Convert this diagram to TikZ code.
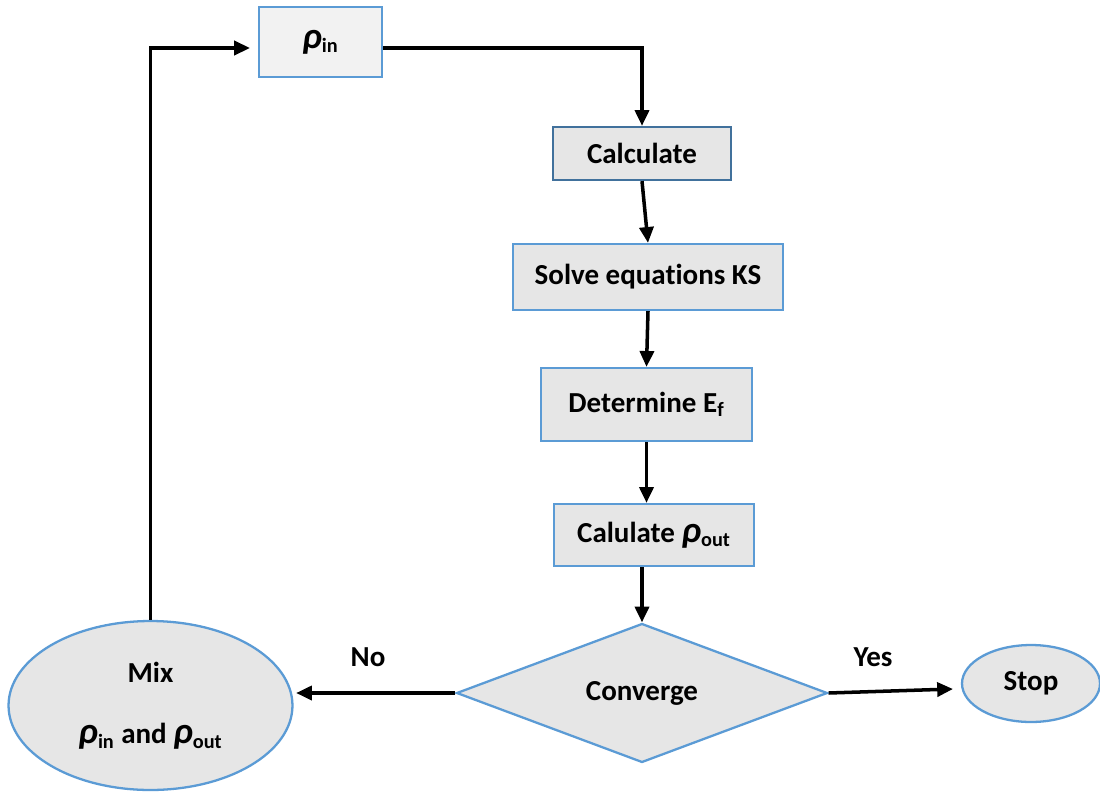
\documentclass[tikz,border=0pt]{standalone}
\usepackage{fontspec}
\setmainfont{Carlito}[Ligatures=NoCommon]
\usetikzlibrary{arrows.meta,shapes.geometric}
\definecolor{boxblue}{HTML}{5B9BD5}
\definecolor{darkblue}{HTML}{41719C}
\definecolor{boxgray}{HTML}{E6E6E6}
\definecolor{palegray}{HTML}{F2F2F2}
\newcommand{\rhosub}[1]{{\fontsize{21}{21}\selectfont\textit{ρ}}\textsubscript{#1}}
\tikzset{
  box/.style={draw=boxblue, fill=boxgray, line width=1.3pt, inner sep=0pt,
    font=\bfseries\fontsize{16.5}{19}\selectfont},
  flow/.style={-{Triangle[length=9pt,width=8pt]}, line width=2pt},
  lbl/.style={font=\bfseries\fontsize{16.5}{19}\selectfont}
}
\begin{document}
\begin{tikzpicture}[x=0.02cm, y=-0.02cm]
\useasboundingbox (0,0) rectangle (1100,792);
% boxes
\node[box, fill=palegray, minimum width=2.46cm, minimum height=1.4cm] (rin) at (320.5,42) {\rhosub{in}};
\node[box, draw=darkblue, minimum width=3.56cm, minimum height=1.06cm] (calc) at (642,153.5) {Calculate};
\node[box, minimum width=5.4cm, minimum height=1.32cm] (solve) at (648,277) {Solve equations KS};
\node[box, minimum width=4.22cm, minimum height=1.46cm] (determ) at (646.5,404.5) {Determine E\textsubscript{f}};
\node[box, minimum width=4.0cm, minimum height=1.24cm] (rout) at (654,535) {Calulate \rhosub{out}};
\node[box, diamond, minimum width=7.42cm, minimum height=2.78cm] (conv) at (642,693) {Converge};
\node[box, ellipse, minimum width=5.68cm, minimum height=3.38cm, align=center] (mix) at (150.5,705.5) {Mix\\[16pt]\rhosub{in} and \rhosub{out}};
\node[box, ellipse, minimum width=2.76cm, minimum height=1.54cm] (stop) at (1031,683.5) {Stop};
% labels
\node[lbl] (no) at (368,657) {No};
\node[lbl] (yes) at (873,657) {Yes};
% arrows
\coordinate (back) at (250,48);
\coordinate (halt) at (953,689);
\draw[flow] (mix.north) |- (back);
\draw[flow] ([yshift=-0.12cm]rin.east) -| (calc.north);
\draw[flow] (calc.south) -- (solve.north);
\draw[flow] (solve.south) -- (determ.north);
\draw[flow] (determ.south) -- (determ.south |- rout.north);
\draw[flow] (rout.south -| conv.north) -- (conv.north);
\draw[flow] (conv.west) -- ([xshift=0.05cm]conv.west -| mix.east);
\draw[flow] (conv.east) -- (halt);
\end{tikzpicture}
\end{document}
